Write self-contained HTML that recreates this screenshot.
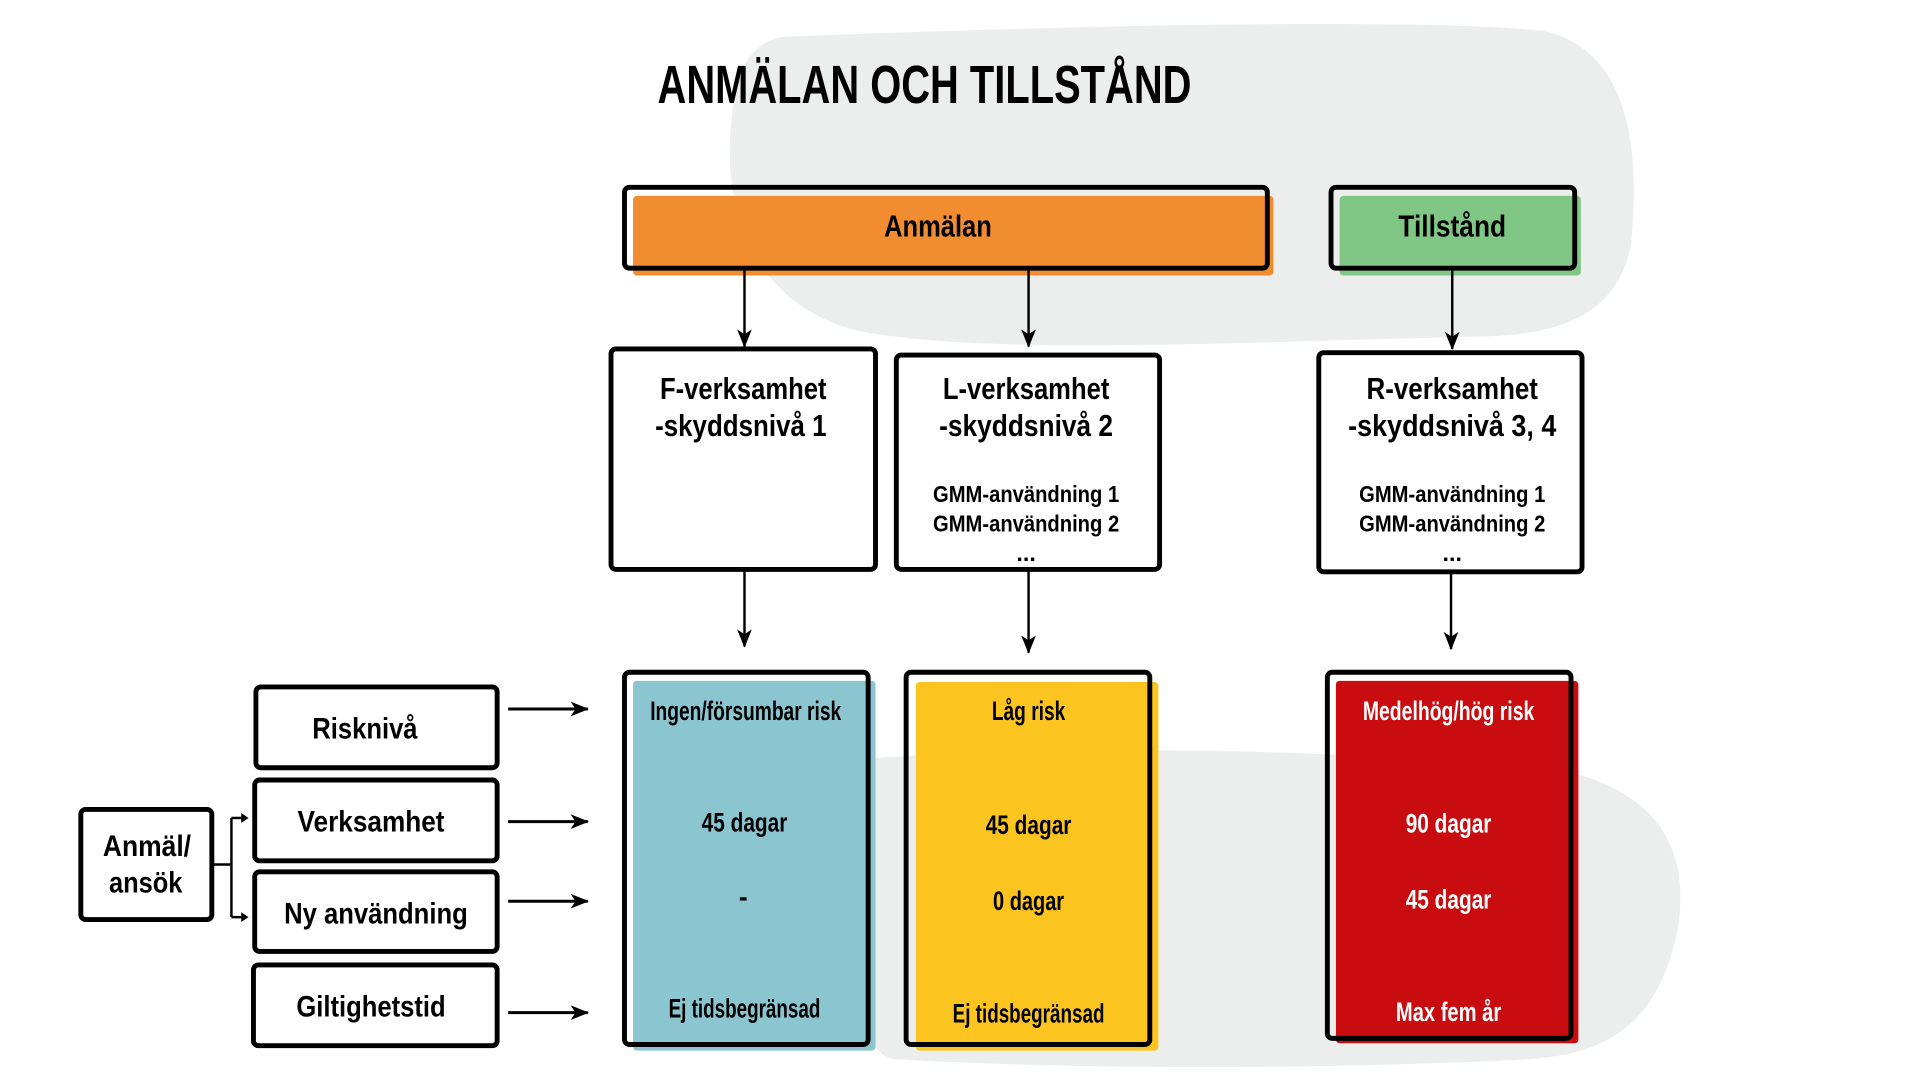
<!DOCTYPE html>
<html><head><meta charset="utf-8"><style>
html,body{margin:0;padding:0;background:#fff;width:1920px;height:1080px;overflow:hidden}
svg{display:block}
text{font-family:"Liberation Sans Narrow","Liberation Sans",sans-serif;font-weight:bold;text-anchor:middle}
</style></head><body>
<svg width="1920" height="1080" viewBox="0 0 1568 882" preserveAspectRatio="none" xmlns="http://www.w3.org/2000/svg">
<defs><marker id="ah" markerWidth="16" markerHeight="12" refX="14" refY="6" orient="auto" markerUnits="userSpaceOnUse"><path d="M0,0 L15,6 L0,12 L4,6 z" fill="#000"/></marker></defs>
<path d="M640,30 C900,20 1150,15 1260,25 C1330,40 1340,120 1332,200 C1320,260 1270,275 1200,275 C1000,280 800,290 700,270 C620,250 595,180 596,120 C598,60 610,35 640,30 z" fill="#eceeed"/>
<path d="M700,620 C900,605 1150,615 1280,630 C1360,650 1380,700 1370,760 C1355,830 1320,860 1250,865 C1050,875 850,872 730,865 C705,860 700,820 700,760 z" fill="#eceeed"/>
<text x="755" y="84" font-size="44" textLength="436" lengthAdjust="spacingAndGlyphs">ANMÄLAN OCH TILLSTÅND</text>
<rect x="517" y="160" width="523" height="65" rx="3" fill="#f28c30"/>
<rect x="510" y="153" width="525" height="66" rx="4" fill="none" stroke="#000" stroke-width="4"/>
<text x="766" y="193" font-size="25" textLength="88" lengthAdjust="spacingAndGlyphs">Anmälan</text>
<rect x="1094" y="160" width="197" height="65" rx="3" fill="#80c785"/>
<rect x="1087" y="153" width="199" height="66" rx="4" fill="none" stroke="#000" stroke-width="4"/>
<text x="1186" y="193" font-size="25" textLength="88" lengthAdjust="spacingAndGlyphs">Tillstånd</text>
<g stroke="#000" stroke-width="2" marker-end="url(#ah)">
<line x1="608" y1="219" x2="608" y2="283"/><line x1="840" y1="219" x2="840" y2="283"/><line x1="1186" y1="219" x2="1186" y2="285"/>
<line x1="608" y1="465" x2="608" y2="528"/><line x1="840" y1="465" x2="840" y2="533"/><line x1="1185" y1="467" x2="1185" y2="530"/>
</g>
<g stroke="#000" stroke-width="2.5" marker-end="url(#ah)">
<line x1="415" y1="579" x2="480" y2="579"/><line x1="415" y1="671" x2="480" y2="671"/><line x1="415" y1="736" x2="480" y2="736"/><line x1="415" y1="827" x2="480" y2="827"/>
</g>
<g fill="#fff" stroke="#000" stroke-width="4">
<rect x="499" y="285" width="216" height="180" rx="4"/>
<rect x="732" y="290" width="215" height="175" rx="4"/>
<rect x="1077" y="288" width="215" height="179" rx="4"/>
</g>
<g font-size="25">
<text x="607" y="326" textLength="136" lengthAdjust="spacingAndGlyphs">F-verksamhet</text>
<text x="605" y="356" textLength="140" lengthAdjust="spacingAndGlyphs">-skyddsnivå 1</text>
<text x="838" y="326" textLength="136" lengthAdjust="spacingAndGlyphs">L-verksamhet</text>
<text x="838" y="356" textLength="142" lengthAdjust="spacingAndGlyphs">-skyddsnivå 2</text>
<text x="1186" y="326" textLength="140" lengthAdjust="spacingAndGlyphs">R-verksamhet</text>
<text x="1186" y="356" textLength="170" lengthAdjust="spacingAndGlyphs">-skyddsnivå 3, 4</text>
</g>
<g font-size="19">
<text x="838" y="410" textLength="152" lengthAdjust="spacingAndGlyphs">GMM-användning 1</text>
<text x="838" y="434" textLength="152" lengthAdjust="spacingAndGlyphs">GMM-användning 2</text>
<text x="838" y="458">...</text>
<text x="1186" y="410" textLength="152" lengthAdjust="spacingAndGlyphs">GMM-användning 1</text>
<text x="1186" y="434" textLength="152" lengthAdjust="spacingAndGlyphs">GMM-användning 2</text>
<text x="1186" y="458">...</text>
</g>
<rect x="517" y="556" width="198" height="302" rx="3" fill="#8bc5cf"/>
<rect x="510" y="549" width="199" height="304" rx="4" fill="none" stroke="#000" stroke-width="4"/>
<rect x="748" y="557" width="198" height="301" rx="3" fill="#fcc41f"/>
<rect x="740" y="549" width="199" height="304" rx="4" fill="none" stroke="#000" stroke-width="4"/>
<rect x="1091" y="556" width="198" height="296" rx="3" fill="#c80c0f"/>
<rect x="1084" y="549" width="199" height="299" rx="4" fill="none" stroke="#000" stroke-width="4"/>
<g font-size="22">
<text x="609" y="588" textLength="156" lengthAdjust="spacingAndGlyphs">Ingen/försumbar risk</text>
<text x="608" y="679" textLength="70" lengthAdjust="spacingAndGlyphs">45 dagar</text>
<text x="607" y="740">-</text>
<text x="608" y="831" textLength="124" lengthAdjust="spacingAndGlyphs">Ej tidsbegränsad</text>
<text x="840" y="588" textLength="60" lengthAdjust="spacingAndGlyphs">Låg risk</text>
<text x="840" y="681" textLength="70" lengthAdjust="spacingAndGlyphs">45 dagar</text>
<text x="840" y="743" textLength="58" lengthAdjust="spacingAndGlyphs">0 dagar</text>
<text x="840" y="835" textLength="124" lengthAdjust="spacingAndGlyphs">Ej tidsbegränsad</text>
<g fill="#fff">
<text x="1183" y="588" textLength="140" lengthAdjust="spacingAndGlyphs">Medelhög/hög risk</text>
<text x="1183" y="680" textLength="70" lengthAdjust="spacingAndGlyphs">90 dagar</text>
<text x="1183" y="742" textLength="70" lengthAdjust="spacingAndGlyphs">45 dagar</text>
<text x="1183" y="834" textLength="86" lengthAdjust="spacingAndGlyphs">Max fem år</text>
</g>
</g>
<g fill="#fff" stroke="#000" stroke-width="4">
<rect x="209" y="561" width="197" height="66" rx="4"/>
<rect x="208" y="637" width="198" height="66" rx="4"/>
<rect x="208" y="712" width="198" height="65" rx="4"/>
<rect x="207" y="788" width="199" height="66" rx="4"/>
<rect x="66" y="661" width="107" height="90" rx="4"/>
</g>
<g font-size="24">
<text x="298" y="603" textLength="86" lengthAdjust="spacingAndGlyphs">Risknivå</text>
<text x="303" y="679" textLength="120" lengthAdjust="spacingAndGlyphs">Verksamhet</text>
<text x="307" y="754" textLength="150" lengthAdjust="spacingAndGlyphs">Ny användning</text>
<text x="303" y="830" textLength="122" lengthAdjust="spacingAndGlyphs">Giltighetstid</text>
<text x="120" y="699" textLength="72" lengthAdjust="spacingAndGlyphs">Anmäl/</text>
<text x="119" y="729" textLength="60" lengthAdjust="spacingAndGlyphs">ansök</text>
</g>
<g stroke="#000" stroke-width="2" fill="none">
<line x1="173" y1="706" x2="189" y2="706"/>
<polyline points="189,668 189,749"/>
<line x1="189" y1="668" x2="199" y2="668"/>
<line x1="189" y1="749" x2="199" y2="749"/>
</g>
<path d="M197,664 L203,668 L197,672 z" fill="#000"/>
<path d="M197,745 L203,749 L197,753 z" fill="#000"/>
</svg>
</body></html>
